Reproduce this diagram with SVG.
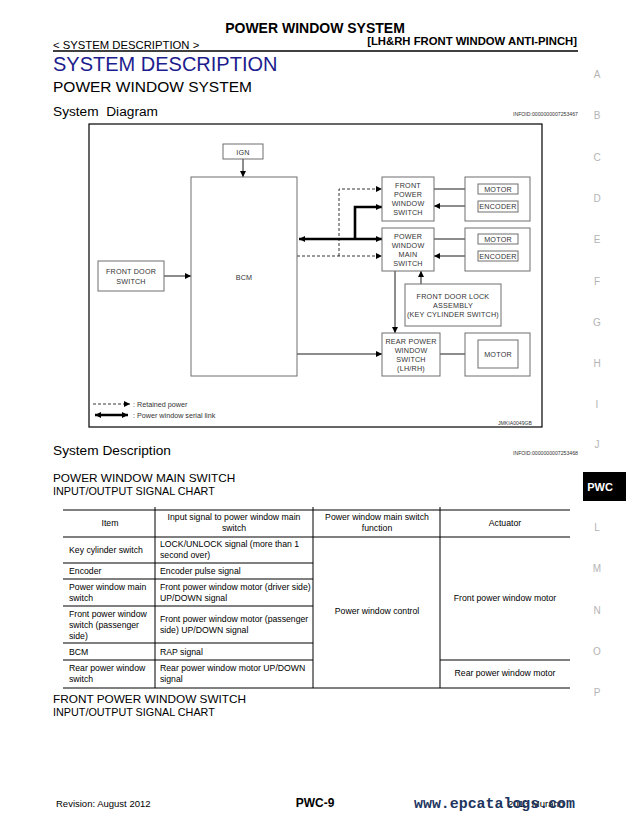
<svg xmlns="http://www.w3.org/2000/svg" width="626" height="820" viewBox="0 0 626 820">
<defs>
<style>
text{font-family:"Liberation Sans",Arial,sans-serif;fill:#000}
.b{font-weight:bold}
.side{fill:#b4b4b4;font-size:10px;text-anchor:middle}
.lbl{font-size:7.2px;fill:#333;text-anchor:middle;letter-spacing:0.2px}
.box{fill:#fff;stroke:#6e6e6e;stroke-width:1}
.ln{fill:none;stroke:#000;stroke-width:0.9}
.thick{fill:none;stroke:#000;stroke-width:2.6}
.dash{fill:none;stroke:#000;stroke-width:0.8;stroke-dasharray:3 2}
.tb{stroke:#000;stroke-width:1;fill:none}
.tx{font-size:8.7px}
.tc{font-size:8.7px;text-anchor:middle}
.tiny{font-size:5px;fill:#333}
</style>
<marker id="ah" viewBox="0 0 10 10" refX="10" refY="5" markerWidth="8" markerHeight="6" markerUnits="userSpaceOnUse" orient="auto-start-reverse">
<path d="M0,0 L10,5 L0,10 z" fill="#000"/>
</marker>
</defs>
<rect width="626" height="820" fill="#fff"/>

<!-- header -->
<text x="315" y="33" class="b" font-size="14" text-anchor="middle">POWER WINDOW SYSTEM</text>
<text x="53" y="49" font-size="11.3">&lt; SYSTEM DESCRIPTION &gt;</text>
<text x="577" y="45" class="b" font-size="11.3" text-anchor="end">[LH&amp;RH FRONT WINDOW ANTI-PINCH]</text>
<line x1="53" y1="51" x2="578" y2="51" stroke="#000" stroke-width="1.5"/>
<text x="53" y="71" font-size="20" style="fill:#1c1c8e">SYSTEM DESCRIPTION</text>
<text x="53" y="92" font-size="15.5">POWER WINDOW SYSTEM</text>
<text x="53" y="116" font-size="13.7" xml:space="preserve">System  Diagram</text>
<text x="513" y="116" class="tiny" textLength="65" lengthAdjust="spacingAndGlyphs">INFOID:0000000007253467</text>

<!-- side index -->
<g id="side-index">
<text x="597" y="78" class="side">A</text>
<text x="597" y="119" class="side">B</text>
<text x="597" y="161" class="side">C</text>
<text x="597" y="202" class="side">D</text>
<text x="597" y="243" class="side">E</text>
<text x="597" y="285" class="side">F</text>
<text x="597" y="326" class="side">G</text>
<text x="597" y="367" class="side">H</text>
<text x="597" y="408" class="side">I</text>
<text x="597" y="448" class="side">J</text>
<rect x="583" y="472" width="43" height="29" fill="#000"/>
<text x="600" y="491" class="b" font-size="11" text-anchor="middle" style="fill:#fff">PWC</text>
<text x="597" y="531" class="side">L</text>
<text x="597" y="572" class="side">M</text>
<text x="597" y="614" class="side">N</text>
<text x="597" y="655" class="side">O</text>
<text x="597" y="696" class="side">P</text>
</g>

<!-- diagram frame -->
<rect x="89" y="124" width="453" height="303" fill="none" stroke="#000" stroke-width="1.2"/>

<g id="connectors">
<line class="ln" x1="243" y1="159" x2="243" y2="177" marker-end="url(#ah)"/>
<line class="ln" x1="164" y1="276" x2="191" y2="276" marker-end="url(#ah)"/>
<line class="thick" x1="299" y1="239" x2="382" y2="239" marker-start="url(#ah)" marker-end="url(#ah)"/>
<polyline class="thick" points="355,239 355,207 382,207" marker-end="url(#ah)"/>
<line class="dash" x1="297" y1="256" x2="382" y2="256" marker-end="url(#ah)"/>
<polyline class="dash" points="339,256 339,189 382,189" marker-end="url(#ah)"/>
<line class="ln" x1="434" y1="189" x2="478" y2="189" marker-end="url(#ah)"/>
<line class="ln" x1="478" y1="206" x2="434" y2="206" marker-end="url(#ah)"/>
<line class="ln" x1="434" y1="239" x2="478" y2="239" marker-end="url(#ah)"/>
<line class="ln" x1="478" y1="256" x2="434" y2="256" marker-end="url(#ah)"/>
<line class="ln" x1="395" y1="271" x2="395" y2="333" marker-end="url(#ah)"/>
<line class="ln" x1="421" y1="284" x2="421" y2="271" marker-end="url(#ah)"/>
<line class="ln" x1="297" y1="354" x2="382" y2="354" marker-end="url(#ah)"/>
<line class="ln" x1="440" y1="354" x2="478" y2="354" marker-end="url(#ah)"/>
</g>

<g id="ign">
<rect class="box" x="223" y="144" width="40" height="15"/>
<text class="lbl" x="243" y="154.5">IGN</text>
</g>
<g id="bcm">
<rect class="box" x="191" y="177" width="106" height="199"/>
<text class="lbl" x="244" y="279.5">BCM</text>
</g>
<g id="front-door-switch">
<rect class="box" x="98" y="261" width="66" height="30"/>
<text class="lbl" x="131" y="274">FRONT DOOR</text>
<text class="lbl" x="131" y="284">SWITCH</text>
</g>
<g id="front-pw-switch">
<rect class="box" x="382" y="177" width="52" height="44"/>
<text class="lbl" x="408" y="188">FRONT</text>
<text class="lbl" x="408" y="197">POWER</text>
<text class="lbl" x="408" y="206">WINDOW</text>
<text class="lbl" x="408" y="215">SWITCH</text>
</g>
<g id="pw-main-switch">
<rect class="box" x="382" y="228" width="52" height="43"/>
<text class="lbl" x="408" y="239">POWER</text>
<text class="lbl" x="408" y="248">WINDOW</text>
<text class="lbl" x="408" y="257">MAIN</text>
<text class="lbl" x="408" y="266">SWITCH</text>
</g>
<g id="front-actuator">
<rect class="box" x="465" y="177" width="65" height="44"/>
<rect class="box" x="478" y="184" width="40" height="10"/>
<text class="lbl" x="498" y="191.5">MOTOR</text>
<rect class="box" x="478" y="201" width="40" height="11"/>
<text class="lbl" x="498" y="209">ENCODER</text>
</g>
<g id="main-actuator">
<rect class="box" x="465" y="228" width="65" height="43"/>
<rect class="box" x="478" y="234" width="40" height="10"/>
<text class="lbl" x="498" y="241.5">MOTOR</text>
<rect class="box" x="478" y="251" width="40" height="10"/>
<text class="lbl" x="498" y="258.5">ENCODER</text>
</g>
<g id="front-door-lock">
<rect class="box" x="405" y="284" width="96" height="42"/>
<text class="lbl" x="453" y="299">FRONT DOOR LOCK</text>
<text class="lbl" x="453" y="308">ASSEMBLY</text>
<text class="lbl" x="453" y="317">(KEY CYLINDER SWITCH)</text>
</g>
<g id="rear-pw-switch">
<rect class="box" x="382" y="333" width="58" height="43"/>
<text class="lbl" x="411" y="344">REAR POWER</text>
<text class="lbl" x="411" y="353">WINDOW</text>
<text class="lbl" x="411" y="362">SWITCH</text>
<text class="lbl" x="411" y="371">(LH/RH)</text>
</g>
<g id="rear-actuator">
<rect class="box" x="465" y="333" width="65" height="43"/>
<rect class="box" x="478" y="340" width="40" height="28"/>
<text class="lbl" x="498" y="356.5">MOTOR</text>
</g>
<g id="legend">
<line class="dash" x1="93" y1="404" x2="130" y2="404" marker-end="url(#ah)"/>
<text x="133" y="406.5" font-size="7.2" style="fill:#333">: Retained power</text>
<line class="thick" x1="95" y1="415" x2="128" y2="415" marker-start="url(#ah)" marker-end="url(#ah)"/>
<text x="133" y="417.5" font-size="7.2" style="fill:#333">: Power window serial link</text>
<text x="498" y="425" class="tiny" font-size="4.5" textLength="34" lengthAdjust="spacingAndGlyphs">JMKIA0049GB</text>
</g>

<!-- system description -->
<text x="53" y="455" font-size="13.7">System Description</text>
<text x="513" y="455" class="tiny" textLength="65" lengthAdjust="spacingAndGlyphs">INFOID:0000000007253468</text>
<text x="53" y="482" font-size="11.8">POWER WINDOW MAIN SWITCH</text>
<text x="53" y="495" font-size="10.8">INPUT/OUTPUT SIGNAL CHART</text>

<g id="table">
<line class="tb" x1="63" y1="510" x2="570" y2="510"/>
<line class="tb" x1="63" y1="537" x2="570" y2="537"/>
<line class="tb" x1="63" y1="563" x2="313" y2="563"/>
<line class="tb" x1="63" y1="579" x2="313" y2="579"/>
<line class="tb" x1="63" y1="606" x2="313" y2="606"/>
<line class="tb" x1="63" y1="643" x2="313" y2="643"/>
<line class="tb" x1="63" y1="660" x2="313" y2="660"/>
<line class="tb" x1="440" y1="660" x2="570" y2="660"/>
<line class="tb" x1="63" y1="688" x2="570" y2="688"/>
<line class="tb" x1="155" y1="507" x2="155" y2="688"/>
<line class="tb" x1="313" y1="507" x2="313" y2="688"/>
<line class="tb" x1="440" y1="507" x2="440" y2="688"/>

<text class="tc" x="110" y="526">Item</text>
<text class="tc" x="234" y="520">Input signal to power window main</text>
<text class="tc" x="234" y="531">switch</text>
<text class="tc" x="377" y="520">Power window main switch</text>
<text class="tc" x="377" y="531">function</text>
<text class="tc" x="505" y="526">Actuator</text>

<text class="tx" x="69" y="553">Key cylinder switch</text>
<text class="tx" x="160" y="547">LOCK/UNLOCK signal (more than 1</text>
<text class="tx" x="160" y="558">second over)</text>

<text class="tx" x="69" y="574">Encoder</text>
<text class="tx" x="160" y="574">Encoder pulse signal</text>

<text class="tx" x="69" y="590">Power window main</text>
<text class="tx" x="69" y="601">switch</text>
<text class="tx" x="160" y="590">Front power window motor (driver side)</text>
<text class="tx" x="160" y="601">UP/DOWN signal</text>

<text class="tx" x="69" y="617">Front power window</text>
<text class="tx" x="69" y="628">switch (passenger</text>
<text class="tx" x="69" y="639">side)</text>
<text class="tx" x="160" y="622">Front power window motor (passenger</text>
<text class="tx" x="160" y="633">side) UP/DOWN signal</text>

<text class="tx" x="69" y="655">BCM</text>
<text class="tx" x="160" y="655">RAP signal</text>

<text class="tx" x="69" y="671">Rear power window</text>
<text class="tx" x="69" y="682">switch</text>
<text class="tx" x="160" y="671">Rear power window motor UP/DOWN</text>
<text class="tx" x="160" y="682">signal</text>

<text class="tc" x="377" y="614">Power window control</text>
<text class="tc" x="505" y="601">Front power window motor</text>
<text class="tc" x="505" y="676">Rear power window motor</text>
</g>

<text x="53" y="703" font-size="11.8">FRONT POWER WINDOW SWITCH</text>
<text x="53" y="716" font-size="10.8">INPUT/OUTPUT SIGNAL CHART</text>

<!-- footer -->
<text x="56" y="807" font-size="9.5">Revision: August 2012</text>
<text x="315" y="807" class="b" font-size="12" text-anchor="middle">PWC-9</text>
<text x="508" y="807" font-size="9.5">2013 Murano</text>
<text x="414" y="808" class="b" font-size="14" style="font-family:'Liberation Mono',monospace;fill:#1e3560" textLength="161" lengthAdjust="spacingAndGlyphs">www.epcatalogs.com</text>
</svg>
